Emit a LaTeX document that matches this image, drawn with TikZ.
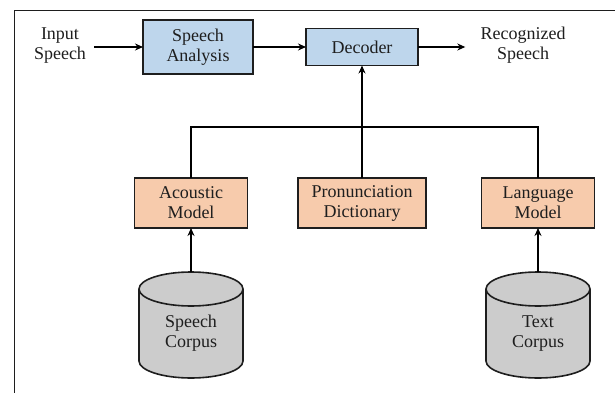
\documentclass[tikz,border=0pt]{standalone}
\usepackage{fontspec}
\setmainfont{Liberation Serif}
\usetikzlibrary{arrows.meta,backgrounds}
\definecolor{anablue}{RGB}{190,214,236}
\definecolor{modorange}{RGB}{247,203,172}
\definecolor{corpgray}{RGB}{204,204,204}
\definecolor{inkgray}{RGB}{30,30,30}
\tikzset{
  txt/.style={font=\fontsize{18pt}{20pt}\selectfont, text=inkgray, align=center, inner sep=8pt},
  stage/.style={txt, draw=inkgray, line width=1.6pt, fill=anablue, inner sep=0pt, outer sep=0pt},
  model/.style={txt, draw=inkgray, line width=1.6pt, fill=modorange, inner sep=0pt, outer sep=0pt,
    minimum height=50pt},
  corpus/.style={txt, inner sep=0pt, outer sep=0pt, minimum width=104pt, minimum height=89pt},
  flow/.style={draw=black, line width=1.3pt, -{Stealth[length=8pt,width=7pt]}},
}
\begin{document}
\begin{tikzpicture}[x=1pt,y=-1pt]
\useasboundingbox (0,0) rectangle (615,393);
\draw[line width=1pt, draw=inkgray] (620,11) -- (14,11) -- (14,400);
% top row
\node[txt] (inp) at (60,46) {Input\\Speech};
\node[stage, minimum width=110pt, minimum height=54pt] (ana) at (198,47) {Speech\\Analysis};
\node[stage, minimum width=112pt, minimum height=37pt] (dec) at (362,47) {Decoder};
\node[txt] (rec) at (523,45) {Recognized\\Speech};
\draw[flow] (ana.west -| inp.east) -- (ana.west);
\draw[flow] (ana.east) -- (dec.west);
\draw[flow, shorten >=7pt] (dec.east) -- (dec.east -| rec.west);
% models
\node[model, minimum width=113pt] (ac) at (191,203) {Acoustic\\Model};
\node[model, minimum width=128pt] (pd) at (362,203) {Pronunciation\\Dictionary};
\node[model, minimum width=113pt] (lm) at (538,203) {Language\\Model};
\coordinate (bus) at (362,127);
\draw[line width=1.3pt] (ac.north) |- (bus) -| (lm.north);
\draw[flow] (pd.north) -- (dec.south);
% corpora
\node[corpus] (spc) at (191,333.5) {Speech\\Corpus};
\node[corpus] (txc) at (538,333.5) {Text\\Corpus};
\begin{scope}[on background layer]
\foreach \c in {spc,txc}{
  \filldraw[fill=corpgray, draw=inkgray, line width=1.6pt]
    (\c.north west) -- ([yshift=17pt]\c.south west)
    arc[start angle=180, end angle=360, x radius=52pt, y radius=17pt]
    -- (\c.north east)
    arc[start angle=0, end angle=180, x radius=52pt, y radius=17pt] -- cycle;
  \draw[draw=inkgray, line width=1.6pt] (\c.north west)
    arc[start angle=180, end angle=360, x radius=52pt, y radius=17pt];
}
\end{scope}
\draw[flow] ([yshift=17pt]spc.north) -- (ac.south);
\draw[flow] ([yshift=17pt]txc.north) -- (lm.south);
\end{tikzpicture}
\end{document}
